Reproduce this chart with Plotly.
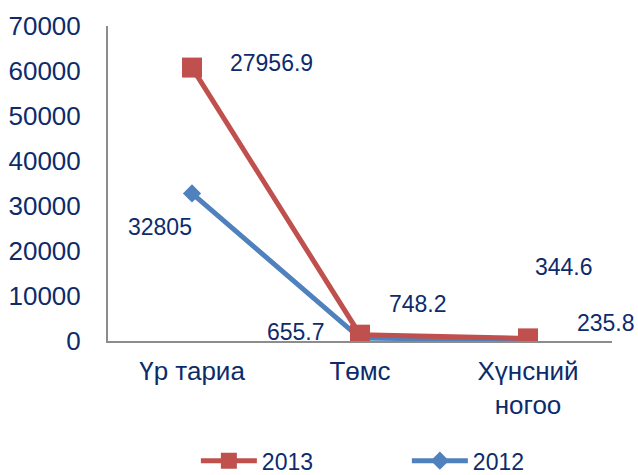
import plotly.graph_objects as go

categories = ["Үр тариа", "Төмс", "Хүнсний<br>ногоо"]
values_2012 = [32805, 655.7, 235.8]
values_2013 = [27956.9, 748.2, 344.6]
y_ticks = [0, 10000, 20000, 30000, 40000, 50000, 60000, 70000]

RED = "#C0504D"
BLUE = "#4F81BD"
TXT = "#0D2B6B"
FONT = "Liberation Sans, Arial, sans-serif"

fig = go.Figure()
fig.add_trace(go.Scatter(
    x=categories, y=values_2012, name="2012", stackgroup="s", fill="none",
    mode="lines+markers",
    line=dict(color=BLUE, width=5),
    marker=dict(symbol="diamond", size=14, color=BLUE),
))
fig.add_trace(go.Scatter(
    x=categories, y=values_2013, name="2013", stackgroup="s", fill="none",
    mode="lines+markers",
    line=dict(color=RED, width=5),
    marker=dict(symbol="square", size=20, color=RED),
))

# data labels (Excel-like offsets), anchored at stacked values
stack_2013 = [a + b for a, b in zip(values_2012, values_2013)]
label_offsets_2012 = [(-32, -34), (-64, 6), (78, 17)]
label_offsets_2013 = [(79, 5), (58, 31), (36, 71)]
for i, c in enumerate(categories):
    dx, dy = label_offsets_2012[i]
    fig.add_annotation(x=c, y=values_2012[i], text=f"{values_2012[i]:g}",
                       showarrow=False, xshift=dx, yshift=dy,
                       font=dict(size=23, color=TXT, family=FONT))
    dx, dy = label_offsets_2013[i]
    fig.add_annotation(x=c, y=stack_2013[i], text=f"{values_2013[i]:g}",
                       showarrow=False, xshift=dx, yshift=dy,
                       font=dict(size=23, color=TXT, family=FONT))

fig.update_layout(
    width=638, height=475,
    margin=dict(l=108, r=26, t=26, b=134, autoexpand=False),
    paper_bgcolor="white", plot_bgcolor="white",
    font=dict(family=FONT, color=TXT, size=24),
    showlegend=True,
    legend=dict(orientation="h", x=0.593, xanchor="center", yref="container",
                y=0.03, yanchor="middle",
                traceorder="reversed", font=dict(size=23, color=TXT),
                itemwidth=56, entrywidth=140, tracegroupgap=0),
    xaxis=dict(type="category", showline=True, linecolor="#8C8C8C", linewidth=2,
               showgrid=False, ticks="", tickfont=dict(size=26, color=TXT),
               range=[-0.5, 2.5], automargin=False, ticklabelstandoff=6),
    yaxis=dict(range=[0, 70000], tickvals=y_ticks, tickformat="d", showline=True,
               linecolor="#8C8C8C", linewidth=2, showgrid=False, zeroline=False,
               ticks="", tickfont=dict(size=26, color=TXT), ticklabelstandoff=20,
               automargin=False),
)

fig.write_html("out.html", config={"displayModeBar": False},
               post_script="document.body.style.margin='0';")
